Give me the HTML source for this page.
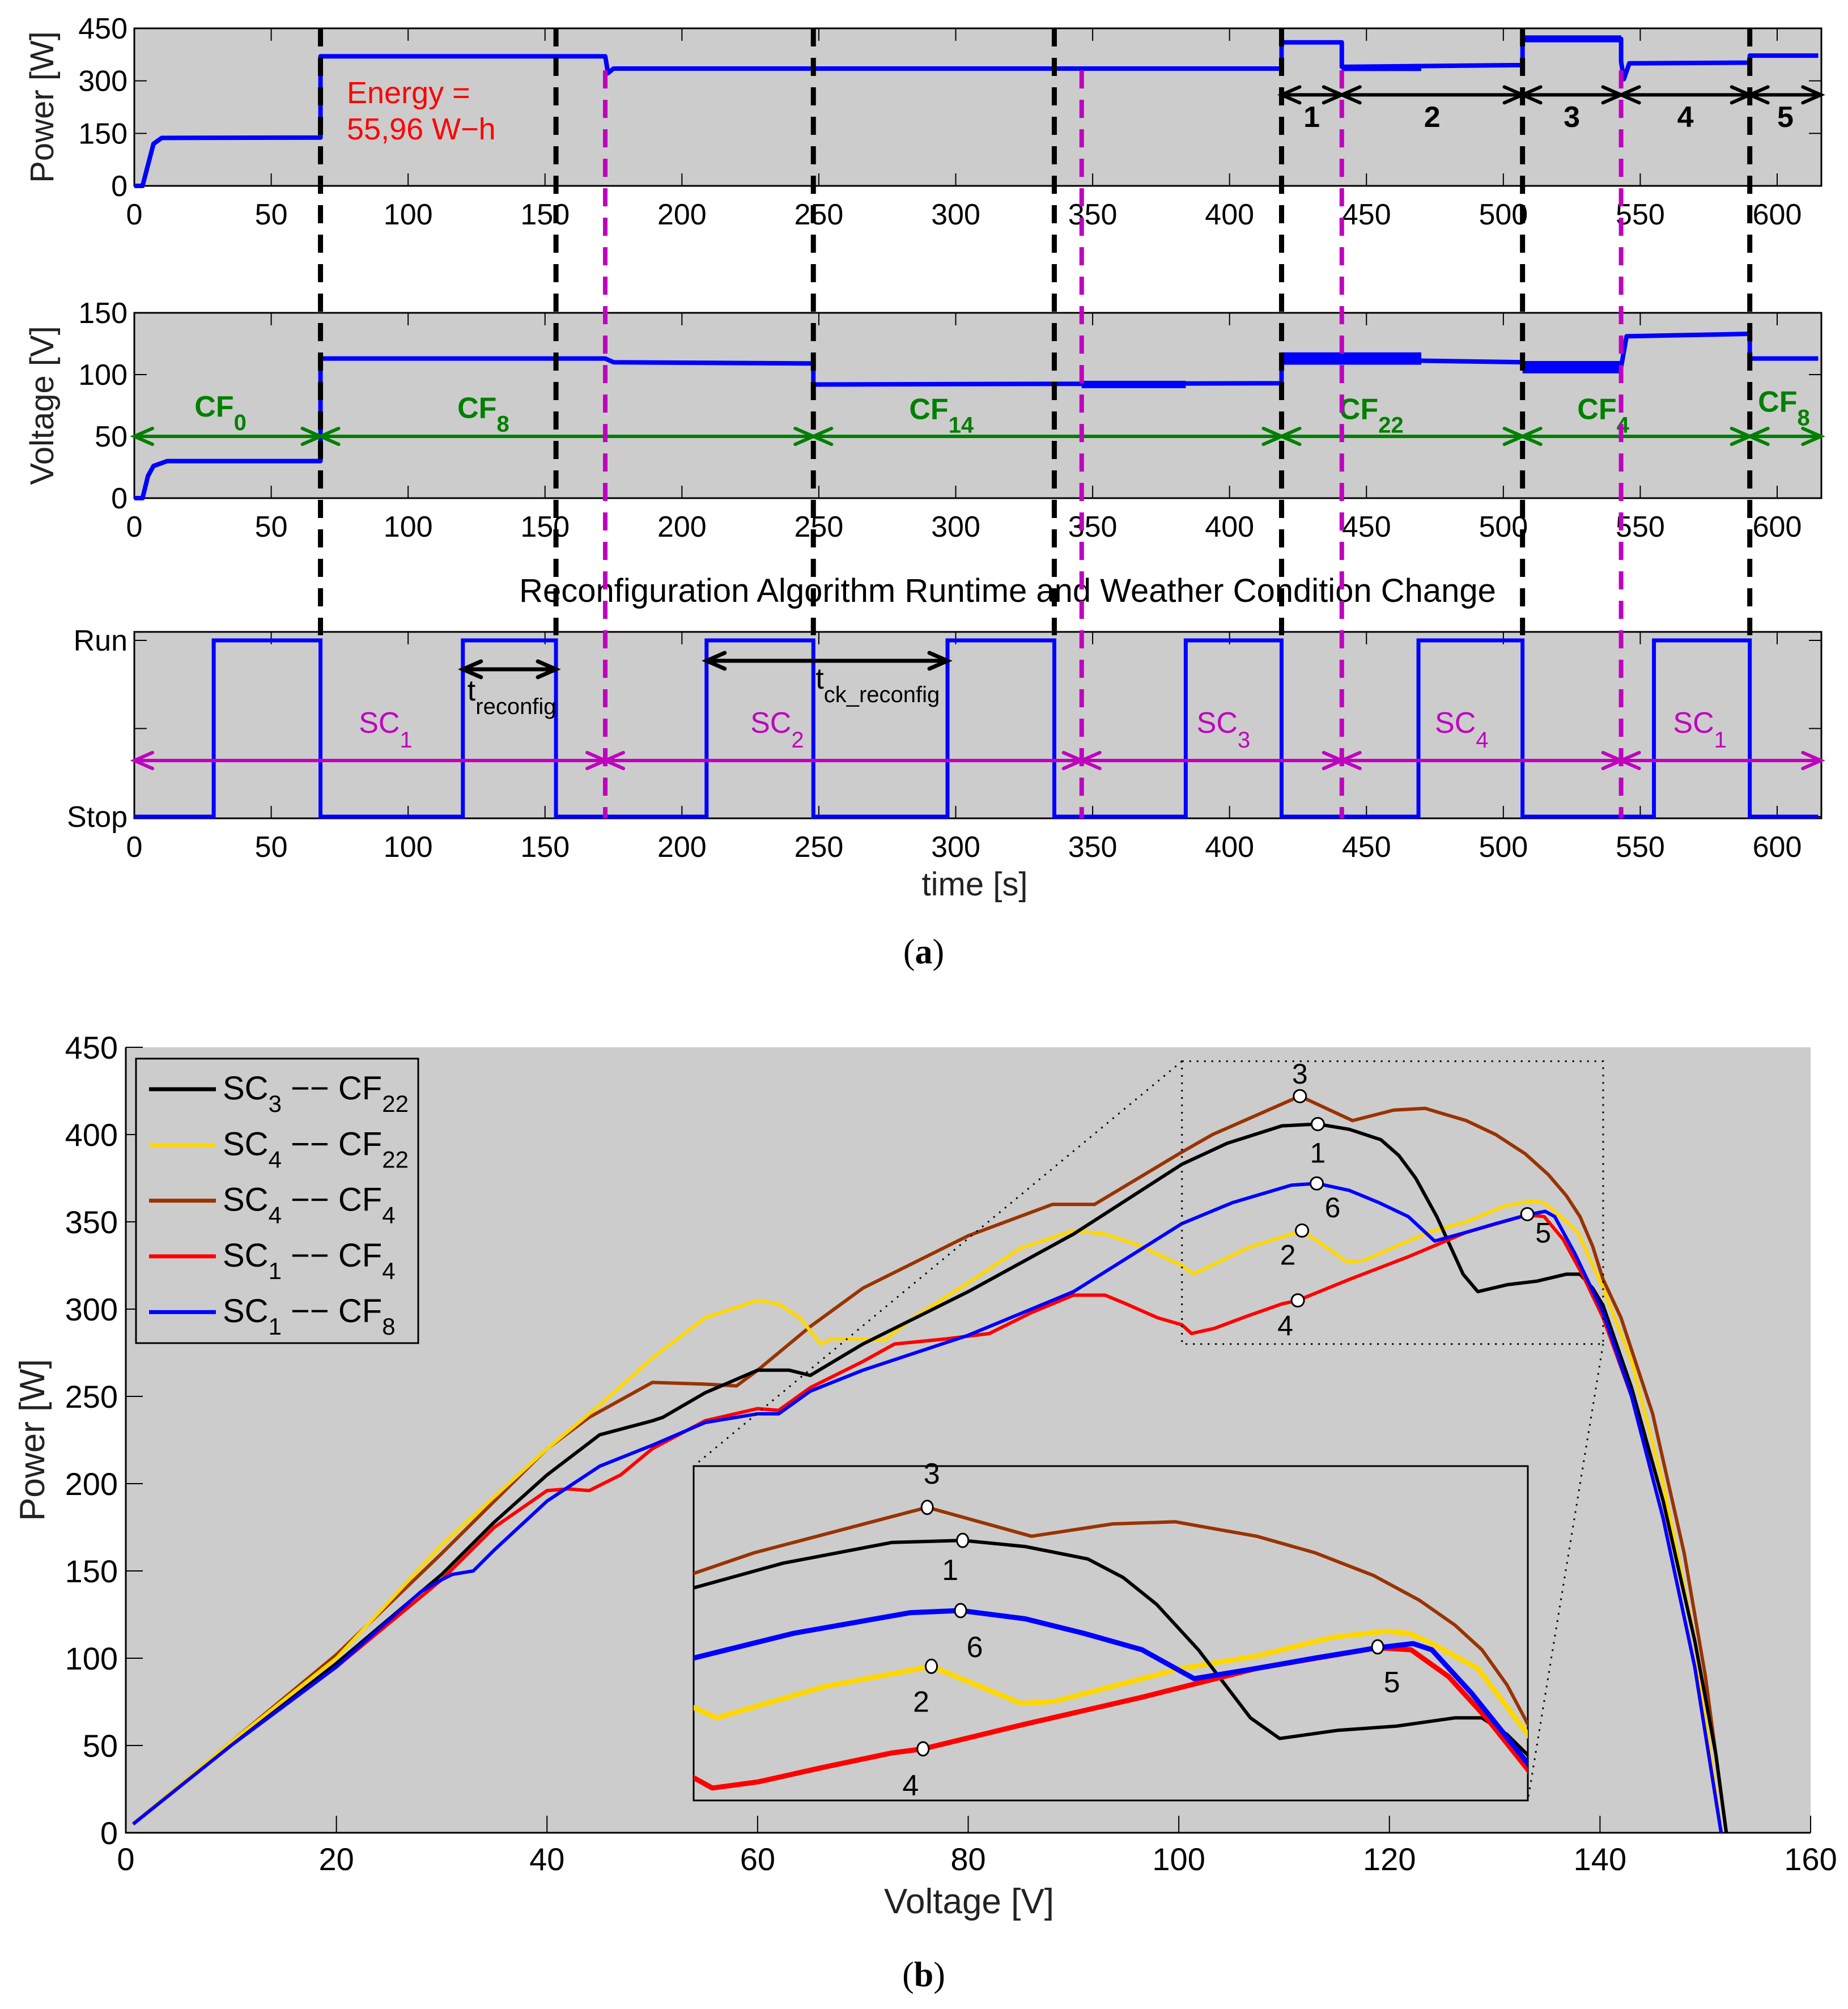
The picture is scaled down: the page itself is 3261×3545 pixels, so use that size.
<!DOCTYPE html>
<html><head><meta charset="utf-8"><style>
html,body{margin:0;padding:0;background:#fff;width:3261px;height:3545px;overflow:hidden;}
svg{display:block;font-family:"Liberation Sans",Arial,sans-serif;}
</style></head><body>
<svg id="fig" xmlns="http://www.w3.org/2000/svg" width="3261" height="3545" viewBox="0 0 3261 3545">
<rect x="0" y="0" width="3261" height="3545" fill="#fff"/>
<g id="ga"></g>
<g id="gb"></g>
<text x="1630" y="1700" font-family="Liberation Serif,serif" font-size="62" text-anchor="middle">(<tspan font-weight="bold">a</tspan>)</text>
<text x="1630" y="3505" font-family="Liberation Serif,serif" font-size="62" text-anchor="middle">(<tspan font-weight="bold">b</tspan>)</text>
</svg>
<script>
// ---------- Panel (a) data ----------
const xTicksA = [0,50,100,150,200,250,300,350,400,450,500,550,600];
const powerTicks = [0,150,300,450];
const voltTicks = [0,50,100,150];
const powerT = [0,3,5,7,10,68,68,172,173,175,419,419,441,441,507,507,543,543,544,546,590,590,615];
const powerW = [0,0,60,120,137,138,370,370,322,335,335,410,410,340,345,420,420,355,305,350,352,372,372];
const powerBandT0 = [441,507];
const powerBandT1 = [470,543];
const powerBandLo = [328,410];
const powerBandHi = [345,430];
const voltT = [0,3,5,7,12,68,68,172,175,248,248,419,419,507,507,543,545,590,590,615];
const voltV = [0,0,18,26,30,30,113,113,110,109,92,93,113,110,106,106,131,133,113,113];
const voltBandT0 = [346,419,507];
const voltBandT1 = [384,470,543];
const voltBandLo = [89,108,101];
const voltBandHi = [95,118,111];
const blackLines = [68,154,248,336,419,507,590];
const magentaLines = [172,346,441,543];
const runStart = [29,120,209,297,384,469,555];
const runEnd = [68,154,248,336,419,507,590];
const segLabels = ["1","2","3","4","5"];
const segStart = [419,441,507,543,590];
const segEnd = [441,507,543,590,616];
const cfLabels = ["0","8","14","22","4","8"];
const cfStart = [0,68,248,419,507,590];
const cfEnd = [68,248,419,507,590,616];
const cfLabelT = [22,118,283,440,527,593];
const cfLabelV = [66,65,64,64,64,70];
const scLabels = ["1","2","3","4","1"];
const scStart = [0,172,346,441,543];
const scEnd = [172,346,441,543,616];
const scLabelT = [82,225,388,475,562];

// ---------- Panel (b) data ----------
const xTicksB = [0,20,40,60,80,100,120,140,160];
const yTicksB = [0,50,100,150,200,250,300,350,400,450];
const blackVolt = [0.7,10,20,30,35,40,45,50,51,55,60,63,65,70,80,90,100.3,104.6,109.8,113.2,116.2,119.2,120.9,122.5,124.5,127,128.4,131.2,134,136.8,138.1,139.3,140.3,143,146,149,151,152];
const blackPow = [5,50,97,148,178,205,228,236,238,252,265,265,262,280,310,343,383,395,405,406,403,397,388,375,353,320,310,314,316,320,320,312,302,255,190,110,45,0];
const brownVolt = [0.7,10,20,30,40,44,50,55,58,60,65,70,80,88,92,100.3,103.2,111.5,116.5,120.4,123.4,124.5,127.3,130.1,132.9,135.1,136.8,138.1,139.3,140.3,142,145,148,150,152];
const brownPow = [5,52,102,160,220,238,258,257,256,265,290,312,342,360,360,390,400,422,408,414,415,413,408,400,389,377,365,353,336,317,295,240,160,90,0];
const yellowVolt = [0.7,10,20,30,40,45,50,55,60,62,64,66,67,70,72,75,80,85,90,93,96,100.3,101.4,106.5,111.7,116,117.6,123.7,127.3,130.9,133.5,134.6,135.7,137.9,140.3,143,146,149,151.5];
const yellowPow = [5,52,100,165,220,245,272,295,305,303,295,280,283,283,282,296,315,335,345,343,337,325,320,335,345,327,328,344,350,359,362,361,356,344,312,270,200,110,0];
const redVolt = [0.7,10,20,30,35,40,42,44,47,50,55,60,62,65,70,73,78,82,86,90,93,95,98,100.3,101.2,103.4,106.5,109.8,111.3,116.2,121.8,127.3,133.1,134.7,136.5,138.4,140.3,143,146,149,151.5];
const redPow = [5,50,95,145,175,196,197,196,205,220,236,243,242,255,270,280,283,286,298,308,308,303,295,291,286,289,296,303,305,317,330,344,354,353,340,319,295,250,180,95,0];
const blueVolt = [0.7,10,20,28,30,31,33,35,40,45,50,55,60,62,65,70,80,90,100.3,105.1,110.7,113.1,116.2,119,121.8,124.3,127.3,130.1,133.1,134.8,135.7,137.6,140.3,143,146,149,151.5];
const bluePow = [5,50,95,138,145,148,150,162,190,210,222,235,240,240,253,265,285,310,349,361,371,372,368,361,353,339,344,349,354,356,353,332,298,250,180,95,0];
const markLabels = ["1","2","3","4","5","6"];
const markVolt = [113.2,111.7,111.5,111.3,133.1,113.1];
const markPow = [406,345,422,305,354.4,372];

const NS="http://www.w3.org/2000/svg";
function mk(tag,attrs,parent,txt){const e=document.createElementNS(NS,tag);for(const k in attrs)e.setAttribute(k,attrs[k]);if(txt!==undefined)e.textContent=txt;parent.appendChild(e);return e;}

// ---------- Panel (a) ----------
const ga=document.getElementById('ga');
const X0=237, XR=3214, PXS=(3136-237)/600;
const xa=t=>X0+t*PXS;
const P1={top:50,bot:328,max:450}, P2={top:552,bot:879,max:150}, P3={top:1115,bot:1444};
const yP=w=>P1.bot-w/P1.max*(P1.bot-P1.top);
const yV=v=>P2.bot-v/P2.max*(P2.bot-P2.top);
const RUN=1130, STOP=1441;

function axesBox(p,name){
  const r=mk('rect',{x:X0,y:p.top,width:XR-X0,height:p.bot-p.top,fill:'#cccccc',stroke:'#000','stroke-width':3},ga);
  
  
  xTicksA.forEach(t=>{
    const tk=mk('path',{d:`M${xa(t)},${p.bot}v-22M${xa(t)},${p.top}v22`,stroke:'#000','stroke-width':2},ga);
    
    
    const lb=mk('text',{x:xa(t),y:p.bot+68,'font-size':52,'text-anchor':'middle'},ga,String(t));
    
    
  });
}
axesBox(P1,'power');
axesBox(P2,'voltage');
axesBox(P3,'runtime');
powerTicks.forEach(w=>{
  const tk=mk('path',{d:`M${X0},${yP(w)}h22M${XR},${yP(w)}h-22`,stroke:'#000','stroke-width':2},ga);
  
  
  const lb=mk('text',{x:225,y:yP(w)+18,'font-size':52,'text-anchor':'end'},ga,String(w));
  
  
});
voltTicks.forEach(v=>{
  const tk=mk('path',{d:`M${X0},${yV(v)}h22M${XR},${yV(v)}h-22`,stroke:'#000','stroke-width':2},ga);
  
  
  const lb=mk('text',{x:225,y:yV(v)+18,'font-size':52,'text-anchor':'end'},ga,String(v));
  
  
});
[[RUN,'Run'],[(RUN+STOP)/2,''],[STOP,'Stop']].forEach(([y,s])=>{
  const tk=mk('path',{d:`M${X0},${y}h22M${XR},${y}h-22`,stroke:'#000','stroke-width':2},ga);
  
  
  if(s){const lb=mk('text',{x:225,y:y+18,'font-size':52,'text-anchor':'end'},ga,s);
  
  }
});
let t1=mk('text',{x:0,y:0,'font-size':58,'text-anchor':'middle',transform:`translate(94,${(P1.top+P1.bot)/2}) rotate(-90)`,fill:'#222'},ga,'Power [W]');


let t2=mk('text',{x:0,y:0,'font-size':58,'text-anchor':'middle',transform:`translate(94,${(P2.top+P2.bot)/2}) rotate(-90)`,fill:'#222'},ga,'Voltage [V]');


let t3=mk('text',{x:1778,y:1062,'font-size':58,'text-anchor':'middle'},ga,'Reconfiguration Algorithm Runtime and Weather Condition Change');


let t4=mk('text',{x:1720,y:1580,'font-size':58,'text-anchor':'middle',fill:'#222'},ga,'time [s]');


let en=mk('text',{x:612,y:182,'font-size':54,fill:'#ff0000'},ga);


mk('tspan',{x:612,dy:0},en,'Energy =');
mk('tspan',{x:612,dy:64},en,'55,96 W\u2212h');

let d='';powerT.forEach((t,i)=>{d+=(i?'L':'M')+xa(t)+','+yP(powerW[i]);});
const pl=mk('path',{d,fill:'none',stroke:'#0000ff','stroke-width':8,'stroke-linejoin':'round'},ga);


powerBandT0.forEach((t0,i)=>{
  const b=mk('rect',{x:xa(t0),y:yP(powerBandHi[i]),width:xa(powerBandT1[i])-xa(t0),height:yP(powerBandLo[i])-yP(powerBandHi[i]),fill:'#0000ff'},ga);
  
  
});
d='';voltT.forEach((t,i)=>{d+=(i?'L':'M')+xa(t)+','+yV(voltV[i]);});
const vl=mk('path',{d,fill:'none',stroke:'#0000ff','stroke-width':8,'stroke-linejoin':'round'},ga);


voltBandT0.forEach((t0,i)=>{
  const b=mk('rect',{x:xa(t0),y:yV(voltBandHi[i]),width:xa(voltBandT1[i])-xa(t0),height:yV(voltBandLo[i])-yV(voltBandHi[i]),fill:'#0000ff'},ga);
  
  
});
d='M'+X0+','+STOP;
runStart.forEach((s,i)=>{d+=`L${xa(s)},${STOP}L${xa(s)},${RUN}L${xa(runEnd[i])},${RUN}L${xa(runEnd[i])},${STOP}`;});
d+=`L${xa(615)},${STOP}`;
const rl=mk('path',{d,fill:'none',stroke:'#0000ff','stroke-width':7},ga);



function arrow(x1,x2,y,color,w,name){
  const g=mk('g',{stroke:color,'stroke-width':w,fill:'none','stroke-linecap':'round'},ga);
  
  
  const h=32,v=14;
  mk('path',{d:`M${x1},${y}L${x2},${y}M${x1+h},${y-v}L${x1},${y}L${x1+h},${y+v}M${x2-h},${y-v}L${x2},${y}L${x2-h},${y+v}`},g);
}
segStart.forEach((s,i)=>{
  arrow(xa(s),xa(segEnd[i]),yP(260),'#000',6,'segment-arrow');
  const lb=mk('text',{x:(xa(s)+xa(segEnd[i]))/2,y:yP(168),'font-size':52,'font-weight':'bold','text-anchor':'middle'},ga,segLabels[i]);
  
  
});
cfStart.forEach((s,i)=>{
  arrow(xa(s),xa(cfEnd[i]),yV(50),'#007f00',6,'cf-arrow');
  const lb=mk('text',{x:xa(cfLabelT[i]),y:yV(cfLabelV[i]),'font-size':52,'font-weight':'bold',fill:'#007f00'},ga,'CF');
  mk('tspan',{dy:24,'font-size':40},lb,cfLabels[i]);
  
  
});
scStart.forEach((s,i)=>{
  arrow(xa(s),xa(scEnd[i]),1342,'#bf00bf',6,'sc-arrow');
  const lb=mk('text',{x:xa(scLabelT[i]),y:1293,'font-size':52,fill:'#bf00bf'},ga,'SC');
  mk('tspan',{dy:26,'font-size':40},lb,scLabels[i]);
  
  
});
arrow(xa(120),xa(154),1181,'#000',7,'t-reconfig-arrow');
let tr=mk('text',{x:xa(120)+8,y:1236,'font-size':52},ga,'t');
mk('tspan',{dy:24,'font-size':40},tr,'reconfig');


arrow(xa(209),xa(297),1166,'#000',7,'t-ck-reconfig-arrow');
let tc=mk('text',{x:xa(248)+4,y:1215,'font-size':52},ga,'t');
mk('tspan',{dy:24,'font-size':40},tc,'ck_reconfig');


blackLines.forEach(t=>{
  const l=mk('line',{x1:xa(t),x2:xa(t),y1:P1.top,y2:P3.top+6,stroke:'#000','stroke-width':9,'stroke-dasharray':'32,20'},ga);
  
  
});
magentaLines.forEach(t=>{
  const l=mk('line',{x1:xa(t),x2:xa(t),y1:yP(330),y2:P3.bot,stroke:'#bf00bf','stroke-width':8,'stroke-dasharray':'32,20'},ga);
  
  
});

// ---------- Panel (b) ----------
const gb=document.getElementById('gb');
const BL=222,BR=3195,BT=1848,BB=3234;
const xb=v=>BL+v/160*(BR-BL);
const yb=w=>BB-w/450*(BB-BT);
const bg=mk('rect',{x:BL,y:BT,width:BR-BL,height:BB-BT,fill:'#cccccc'},gb);


mk('path',{d:`M${BL},${BT}V${BB}H${BR}`,fill:'none',stroke:'#000','stroke-width':3},gb);
xTicksB.forEach(v=>{
  const tk=mk('path',{d:`M${xb(v)},${BB}v-30`,stroke:'#000','stroke-width':2},gb);
  
  
  const lb=mk('text',{x:xb(v),y:BB+66,'font-size':56,'text-anchor':'middle'},gb,String(v));
  
  
});
yTicksB.forEach(w=>{
  const tk=mk('path',{d:`M${BL},${yb(w)}h30`,stroke:'#000','stroke-width':2},gb);
  
  
  const lb=mk('text',{x:208,y:yb(w)+20,'font-size':56,'text-anchor':'end'},gb,String(w));
  
  
});
let bx=mk('text',{x:1710,y:3376,'font-size':62,'text-anchor':'middle',fill:'#222'},gb,'Voltage [V]');


let by=mk('text',{x:0,y:0,'font-size':62,'text-anchor':'middle',fill:'#222',transform:`translate(78,${(BT+BB)/2}) rotate(-90)`},gb,'Power [W]');



const series=[
 {v:blackVolt,p:blackPow,c:'#000000',n:'sc3-cf22-curve'},
 {v:yellowVolt,p:yellowPow,c:'#ffd700',n:'sc4-cf22-curve'},
 {v:brownVolt,p:brownPow,c:'#993300',n:'sc4-cf4-curve'},
 {v:redVolt,p:redPow,c:'#ff0000',n:'sc1-cf4-curve'},
 {v:blueVolt,p:bluePow,c:'#0000ff',n:'sc1-cf8-curve'}];
const drawOrder=[2,1,0,3,4];
drawOrder.forEach(k=>{
  const s=series[k];let dd='';
  s.v.forEach((v,i)=>{dd+=(i?'L':'M')+xb(v).toFixed(1)+','+yb(s.p[i]).toFixed(1);});
  const l=mk('path',{d:dd,fill:'none',stroke:s.c,'stroke-width':6,'stroke-linejoin':'round'},gb);
  
  
});
const labOff=[[0,68],[-25,60],[0,-22],[-22,62],[28,50],[28,60]];
markVolt.forEach((v,i)=>{
  const c=mk('circle',{cx:xb(v),cy:yb(markPow[i]),r:11,fill:'#fff',stroke:'#000','stroke-width':3},gb);
  
  
  const t=mk('text',{x:xb(v)+labOff[i][0],y:yb(markPow[i])+labOff[i][1],'font-size':50,'text-anchor':'middle'},gb,markLabels[i]);
  
  
});
const ZV0=100.3,ZV1=140.3,ZW0=280,ZW1=442;
const zr=mk('rect',{x:xb(ZV0),y:yb(ZW1),width:xb(ZV1)-xb(ZV0),height:yb(ZW0)-yb(ZW1),fill:'none',stroke:'#000','stroke-width':3,'stroke-dasharray':'3,10'},gb);


const IL=1224,IR=2696,IT=2587,IB=3177;
const cn=mk('path',{d:`M${xb(ZV0)},${yb(ZW1)}L${IL},${IT}M${xb(ZV1)},${yb(ZW0)}L${IR},${IB}`,stroke:'#000','stroke-width':3,'stroke-dasharray':'3,10',fill:'none'},gb);


const xi=v=>IL+(v-ZV0)/(ZV1-ZV0)*(IR-IL);
const yi=w=>IB-(w-ZW0)/(ZW1-ZW0)*(IB-IT);
mk('clipPath',{id:'ic'},gb);
mk('rect',{x:IL,y:IT,width:IR-IL,height:IB-IT},document.getElementById('ic'));
const ib=mk('rect',{x:IL,y:IT,width:IR-IL,height:IB-IT,fill:'#cccccc',stroke:'#000','stroke-width':3},gb);


const ig=mk('g',{'clip-path':'url(#ic)'},gb);


drawOrder.forEach(k=>{
  const s=series[k];let dd='';
  s.v.forEach((v,i)=>{dd+=(i?'L':'M')+xi(v).toFixed(1)+','+yi(s.p[i]).toFixed(1);});
  const l=mk('path',{d:dd,fill:'none',stroke:s.c,'stroke-width':k===0||k===2?6:9,'stroke-linejoin':'round'},ig);
  
  
});
const labOffI=[[-22,70],[-18,80],[8,-42],[-22,82],[25,80],[25,82]];
markVolt.forEach((v,i)=>{
  const c=mk('ellipse',{cx:xi(v),cy:yi(markPow[i]),rx:10,ry:12,fill:'#fff',stroke:'#000','stroke-width':3},gb);
  
  
  const t=mk('text',{x:xi(v)+labOffI[i][0],y:yi(markPow[i])+labOffI[i][1],'font-size':52,'text-anchor':'middle'},gb,markLabels[i]);
  
  
});
const lg=mk('g',{},gb);


mk('rect',{x:240,y:1868,width:498,height:502,fill:'#cccccc',stroke:'#000','stroke-width':3},lg);
const legSC=['3','4','4','1','1'], legCF=['22','22','4','4','8'];
series.forEach((s,i)=>{
  const y=1922+i*98.3;
  const e=mk('g',{},lg);
  
  
  mk('line',{x1:263,x2:381,y1:y,y2:y,stroke:s.c,'stroke-width':7},e);
  const t=mk('text',{x:393,y:y+18,'font-size':58},e,'SC');
  mk('tspan',{dy:22,'font-size':42},t,legSC[i]);
  mk('tspan',{dy:-22,'font-size':58},t,' \u2212\u2212 CF');
  mk('tspan',{dy:22,'font-size':42},t,legCF[i]);
});
</script>
</body></html>
